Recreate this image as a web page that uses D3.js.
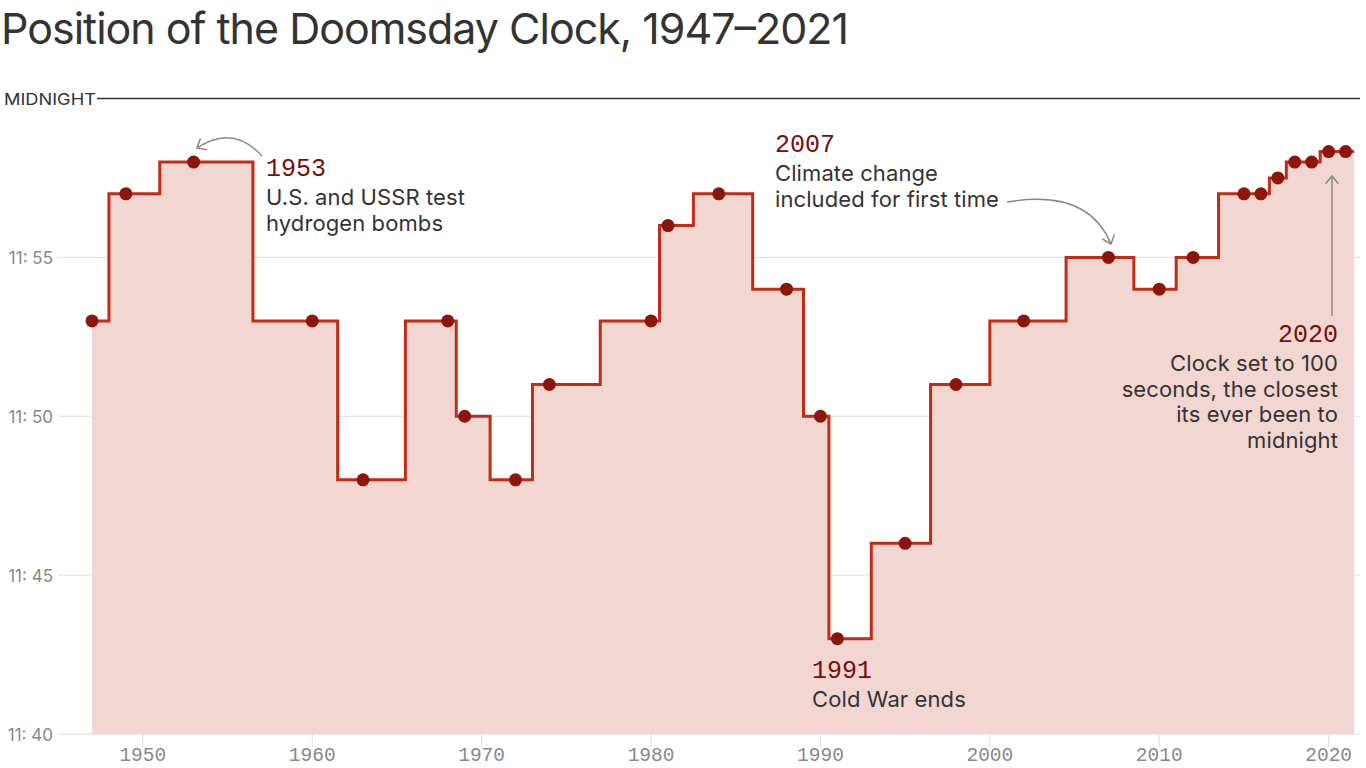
<!DOCTYPE html>
<html>
<head>
<meta charset="utf-8">
<style>
body { margin: 0; background: #fff; }
.title { font: 400 43px Inter, "Noto Sans", sans-serif; fill: #333; }
.note { font: 400 22px Inter, "Noto Sans", sans-serif; fill: #333; letter-spacing: 0.1px; }
.noteyear { font: 400 25px "Liberation Mono", "DejaVu Sans Mono", monospace; fill: #7a0c0c; }
.ylab { font: 400 17px Inter, sans-serif; fill: #888; text-anchor: end; }
.xlab { font: 400 19.5px "Liberation Mono", "DejaVu Sans Mono", monospace; fill: #888; text-anchor: middle; }
.arrow { fill: none; stroke: #888; stroke-width: 1.5; }
</style>
<script src="https://d3js.org/d3.v7.min.js"></script>
</head>
<body>
<svg width="1366" height="768"></svg>
<script>
// clock readings, minutes to midnight
var years = [1947, 1949, 1953, 1960, 1963, 1968, 1969, 1972, 1974, 1980, 1981, 1984, 1988, 1990,
  1991, 1995, 1998, 2002, 2007, 2010, 2012, 2015, 2016, 2017, 2018, 2019, 2020, 2021, 2022];
var minutes = [7, 3, 2, 7, 12, 7, 10, 12, 9, 7, 4, 3, 6, 10,
  17, 14, 9, 7, 5, 6, 5, 3, 3, 2.5, 2, 2, 1.67, 1.67, 1.67];
var yTicks = [5, 10, 15, 20];
var yTickLabels = ["11: 55", "11: 50", "11: 45", "11: 40"];
var xTicks = [1950, 1960, 1970, 1980, 1990, 2000, 2010, 2020];

var data = years.map(function(y, i) { return { year: y, min: minutes[i] }; });

var svg = d3.select("svg");

var x = d3.scaleLinear().domain([1947, 2021]).range([92, 1345.6]);
var y = d3.scaleLinear().domain([0, 20]).range([98.5, 734]);

// title
svg.append("text").attr("class", "title")
  .attr("x", 1).attr("y", 44)
  .attr("textLength", 848).attr("lengthAdjust", "spacing")
  .text("Position of the Doomsday Clock, 1947\u20132021");

// grid
var grid = svg.append("g");
grid.selectAll("line").data(yTicks).enter().append("line")
  .attr("x1", 58).attr("x2", 1360)
  .attr("y1", function(d) { return y(d); }).attr("y2", function(d) { return y(d); })
  .attr("stroke", "#ddd").attr("stroke-width", 1);
grid.selectAll("text").data(yTicks).enter().append("text")
  .attr("class", "ylab")
  .attr("x", 53).attr("y", function(d) { return y(d) + 6.5; })
  .text(function(d, i) { return yTickLabels[i]; });

// midnight line
svg.append("line")
  .attr("x1", 97).attr("x2", 1360).attr("y1", y(0)).attr("y2", y(0))
  .attr("stroke", "#333").attr("stroke-width", 1.4);
svg.append("text")
  .attr("x", 4).attr("y", 105)
  .attr("textLength", 92).attr("lengthAdjust", "spacingAndGlyphs")
  .style("font", "400 16.5px Inter, sans-serif").style("fill", "#333")
  .text("MIDNIGHT");

// x axis ticks
var xa = svg.append("g");
xa.selectAll("line").data(xTicks).enter().append("line")
  .attr("x1", function(d) { return x(d); }).attr("x2", function(d) { return x(d); })
  .attr("y1", 734).attr("y2", 747)
  .attr("stroke", "#ddd").attr("stroke-width", 1);
xa.selectAll("text").data(xTicks).enter().append("text")
  .attr("class", "xlab")
  .attr("x", function(d) { return x(d); }).attr("y", 761)
  .text(function(d) { return d; });

// clip so the line stops half a year after 2021
svg.append("clipPath").attr("id", "clip")
  .append("rect").attr("x", 0).attr("y", 0).attr("width", x(2021.5)).attr("height", 768);

var plot = svg.append("g").attr("clip-path", "url(#clip)");

var area = d3.area().curve(d3.curveStep)
  .x(function(d) { return x(d.year); })
  .y0(y(20))
  .y1(function(d) { return y(d.min); });
var line = d3.line().curve(d3.curveStep)
  .x(function(d) { return x(d.year); })
  .y(function(d) { return y(d.min); });

plot.append("path").datum(data).attr("d", area).attr("fill", "#f2d6d2");
plot.append("path").datum(data).attr("d", line)
  .attr("fill", "none").attr("stroke", "#c22b16").attr("stroke-width", 3);
plot.selectAll("circle").data(data).enter().append("circle")
  .attr("cx", function(d) { return x(d.year); })
  .attr("cy", function(d) { return y(d.min); })
  .attr("r", 6.5).attr("fill", "#8e150c");

// annotations
function note(xp, yp, year, lines, anchor) {
  var g = svg.append("g").attr("text-anchor", anchor || "start");
  g.append("text").attr("class", "noteyear").attr("x", xp).attr("y", yp).text(year);
  lines.forEach(function(t, i) {
    g.append("text").attr("class", "note")
      .attr("x", xp).attr("y", yp + 29 + i * 25.5).text(t);
  });
}
note(266, 176, "1953", ["U.S. and USSR test", "hydrogen bombs"]);
note(775, 152, "2007", ["Climate change", "included for first time"]);
note(812, 678, "1991", ["Cold War ends"]);
note(1338, 342, "2020", ["Clock set to 100", "seconds, the closest", "its ever been to", "midnight"], "end");

// arrows
function head(tx, ty, ang) {
  var a = ang * Math.PI / 180, l = 10, s = 0.7;
  var p1 = [tx - l * Math.cos(a - s), ty - l * Math.sin(a - s)];
  var p2 = [tx - l * Math.cos(a + s), ty - l * Math.sin(a + s)];
  svg.append("path").attr("class", "arrow")
    .attr("d", "M" + p1 + "L" + tx + "," + ty + "L" + p2);
}
svg.append("path").attr("class", "arrow").attr("d", "M262,156 Q233,124 197,148");
head(197, 148, 150);
svg.append("path").attr("class", "arrow").attr("d", "M1007,202 Q1088,188 1111,244");
head(1111, 244, 70);
svg.append("path").attr("class", "arrow").attr("d", "M1332,316 L1332,176");
head(1332, 176, -90);
</script>
</body>
</html>
